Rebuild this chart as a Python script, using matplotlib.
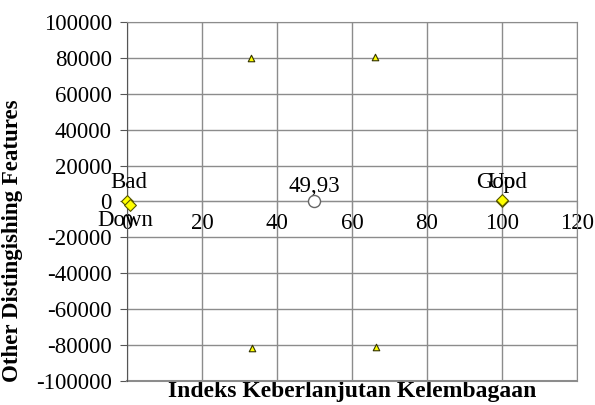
import matplotlib
matplotlib.use("Agg")
import matplotlib.pyplot as plt

plt.rcParams['font.family'] = ['Liberation Serif', 'DejaVu Serif']
plt.rcParams['axes.unicode_minus'] = False

# anchors
anchor_names = ['Bad', 'Good', 'Up', 'Down']
anchor_x = [0, 100, 100, 0.8]
anchor_y = [0, 0, 800, -2000]

# ordination points
tri_x = [33.1, 66.2, 33.3, 66.5]
tri_y = [79800, 80500, -81500, -81000]

# index result
score = 49.93
score_label = '49,93'

xticks = [0, 20, 40, 60, 80, 100, 120]
yticks = list(range(-100000, 100001, 20000))

fig = plt.figure(figsize=(5.95, 4.05), dpi=100)
ax = fig.add_axes([0.2134, 0.0593, 0.7563, 0.8864])

ax.set_xlim(0, 120)
ax.set_ylim(-100000, 100000)
ax.set_xticks(xticks)
ax.set_yticks(yticks)
ax.grid(True, color='#8c8c8c', linewidth=1)
ax.set_axisbelow(True)

for s in ['top', 'right']:
    ax.spines[s].set_color('#8c8c8c')
ax.spines['bottom'].set_position(('data', 0))
ax.spines['bottom'].set_color('#8c8c8c')
ax.spines['left'].set_color('#555555')
ax.tick_params(axis='x', direction='out', length=5, color='#8c8c8c', labelsize=16.5, pad=3)
ax.tick_params(axis='y', direction='out', length=5, color='#555555', labelsize=16.5, pad=6)

# bottom border line at -100000
ax.axhline(-100000, color='#8c8c8c', linewidth=1.5, clip_on=False)

ax.scatter(tri_x, tri_y, marker='^', s=22, facecolor='#ffff00', edgecolor='#333300',
           linewidth=0.8, zorder=3)
ax.scatter(anchor_x, anchor_y, marker='D', s=36, facecolor='#ffff00', edgecolor='#555500',
           linewidth=0.8, zorder=3, clip_on=False)
ax.scatter([score], [0], marker='o', s=75, facecolor='white', edgecolor='#666666',
           linewidth=1, zorder=4)

ax.text(0.5, 5000, 'Bad', ha='center', va='bottom', fontsize=16.5)
ax.text(-0.5, -5000, 'Down', ha='center', va='top', fontsize=16.5)
ax.text(100, 4500, 'Good', ha='center', va='bottom', fontsize=16.5)
ax.text(100, 4500, 'Up', ha='center', va='bottom', fontsize=16.5)
ax.text(score, 2500, score_label, ha='center', va='bottom', fontsize=16.5)

ax.set_ylabel('Other Distingishing Features', fontsize=16.5, fontweight='bold')
ax.yaxis.set_label_coords(-0.232, 0.39)
ax.set_xlabel('Indeks Keberlanjutan Kelembagaan', fontsize=17, fontweight='bold', va='center')
ax.xaxis.set_label_coords(0.5, -0.03)

fig.savefig('out.png', dpi=100)
